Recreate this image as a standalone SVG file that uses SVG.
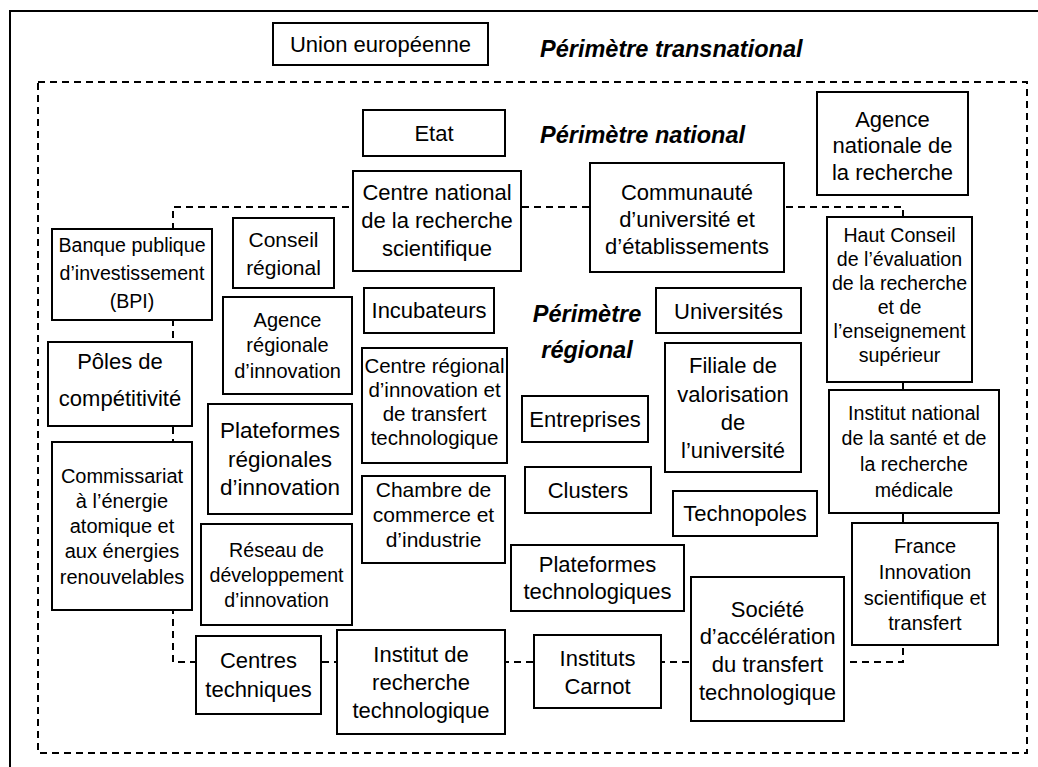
<svg xmlns="http://www.w3.org/2000/svg" width="1038" height="767" viewBox="0 0 1038 767">
<style>
text{font-family:"Liberation Sans",Arial,sans-serif;fill:#000;text-anchor:middle}
.b rect{fill:#fff;stroke:#000;stroke-width:2}
.f22{font-size:22px}
.f20{font-size:20px}
.f19{font-size:19.6px}
.lab{font-family:"Liberation Sans",Arial,sans-serif;font-weight:bold;font-style:italic;font-size:23.5px;text-anchor:start}
.dash{fill:none;stroke:#000;stroke-width:2;stroke-dasharray:7 5}
.solid{fill:none;stroke:#000;stroke-width:2}
</style>
<rect width="1038" height="767" fill="#fff"/>
<path class="solid" d="M10,767 V11 H1038"/>
<g id="connectors">
<rect class="dash" x="38" y="82" width="989" height="671"/>
<path class="dash" d="M903,217 V207 H173 V662 H903 V645"/>
<path class="solid" d="M903,382 V390 M903,513 V523"/>
</g>
<text class="lab" x="540" y="57">Périmètre transnational</text>
<text class="lab" x="540" y="143">Périmètre national</text>
<text class="lab" style="text-anchor:middle" x="587" y="322">Périmètre</text>
<text class="lab" style="text-anchor:middle" x="587" y="358">régional</text>

<g id="union" class="b"><rect x="273" y="23" width="215" height="42"/><text class="f22" x="380.5" y="52">Union européenne</text></g>
<g id="etat" class="b"><rect x="363" y="110" width="142" height="46"/><text class="f22" x="434" y="141">Etat</text></g>
<g id="cnrs" class="b"><rect x="353" y="171" width="168" height="100"/><text class="f22"><tspan x="437" y="200">Centre national</tspan><tspan x="437" y="228">de la recherche</tspan><tspan x="437" y="256">scientifique</tspan></text></g>
<g id="comue" class="b"><rect x="590" y="163" width="194" height="109"/><text class="f22"><tspan x="687" y="200">Communauté</tspan><tspan x="687" y="227">d’université et</tspan><tspan x="687" y="254">d’établissements</tspan></text></g>
<g id="anr" class="b"><rect x="817" y="92" width="151" height="103"/><text class="f22"><tspan x="892.5" y="127">Agence</tspan><tspan x="892.5" y="153">nationale de</tspan><tspan x="892.5" y="180">la recherche</tspan></text></g>
<g id="hceres" class="b"><rect x="827" y="217" width="145" height="165"/><text class="f19"><tspan x="899.5" y="242">Haut Conseil</tspan><tspan x="899.5" y="266">de l’évaluation</tspan><tspan x="899.5" y="290">de la recherche</tspan><tspan x="899.5" y="314">et de</tspan><tspan x="899.5" y="338">l’enseignement</tspan><tspan x="899.5" y="362">supérieur</tspan></text></g>
<g id="bpi" class="b"><rect x="52" y="229" width="160" height="91"/><text class="f19"><tspan x="132" y="252">Banque publique</tspan><tspan x="132" y="280">d’investissement</tspan><tspan x="132" y="308">(BPI)</tspan></text></g>
<g id="conseil" class="b"><rect x="233" y="218" width="101" height="70"/><text style="font-size:21px"><tspan x="283.5" y="247">Conseil</tspan><tspan x="283.5" y="275">régional</tspan></text></g>
<g id="poles" class="b"><rect x="48" y="342" width="144" height="84"/><text class="f22"><tspan x="120" y="369">Pôles de</tspan><tspan x="120" y="406">compétitivité</tspan></text></g>
<g id="cea" class="b"><rect x="52" y="442" width="140" height="168"/><text class="f20"><tspan x="122" y="483">Commissariat</tspan><tspan x="122" y="508">à l’énergie</tspan><tspan x="122" y="533">atomique et</tspan><tspan x="122" y="558">aux énergies</tspan><tspan x="122" y="584">renouvelables</tspan></text></g>
<g id="ari" class="b"><rect x="223" y="297" width="129" height="97"/><text class="f20"><tspan x="287.5" y="327">Agence</tspan><tspan x="287.5" y="352">régionale</tspan><tspan x="287.5" y="378">d’innovation</tspan></text></g>
<g id="incub" class="b"><rect x="364" y="288" width="130" height="45"/><text class="f22" x="429" y="318">Incubateurs</text></g>
<g id="critt" class="b"><rect x="362" y="348" width="145" height="115"/><text style="font-size:20.5px"><tspan x="434.5" y="373">Centre régional</tspan><tspan x="434.5" y="397">d’innovation et</tspan><tspan x="434.5" y="421">de transfert</tspan><tspan x="434.5" y="445">technologique</tspan></text></g>
<g id="cci" class="b"><rect x="362" y="476" width="143" height="87"/><text style="font-size:21px"><tspan x="433.5" y="497">Chambre de</tspan><tspan x="433.5" y="522">commerce et</tspan><tspan x="433.5" y="547">d’industrie</tspan></text></g>
<g id="pri" class="b"><rect x="208" y="404" width="144" height="110"/><text style="font-size:22.5px"><tspan x="280" y="438">Plateformes</tspan><tspan x="280" y="467">régionales</tspan><tspan x="280" y="495">d’innovation</tspan></text></g>
<g id="rdi" class="b"><rect x="201" y="524" width="151" height="101"/><text class="f19"><tspan x="276.5" y="557">Réseau de</tspan><tspan x="276.5" y="582">développement</tspan><tspan x="276.5" y="607">d’innovation</tspan></text></g>
<g id="ctech" class="b"><rect x="196" y="636" width="125" height="78"/><text class="f22"><tspan x="258.5" y="668">Centres</tspan><tspan x="258.5" y="697">techniques</tspan></text></g>
<g id="irt" class="b"><rect x="337" y="630" width="168" height="104"/><text class="f22"><tspan x="421" y="662">Institut de</tspan><tspan x="421" y="690">recherche</tspan><tspan x="421" y="718">technologique</tspan></text></g>
<g id="carnot" class="b"><rect x="534" y="635" width="127" height="73"/><text class="f22"><tspan x="597.5" y="666">Instituts</tspan><tspan x="597.5" y="694">Carnot</tspan></text></g>
<g id="satt" class="b"><rect x="691" y="577" width="153" height="144"/><text class="f22"><tspan x="767.5" y="617">Société</tspan><tspan x="767.5" y="644">d’accélération</tspan><tspan x="767.5" y="672">du transfert</tspan><tspan x="767.5" y="700">technologique</tspan></text></g>
<g id="fist" class="b"><rect x="852" y="523" width="146" height="122"/><text class="f20"><tspan x="925" y="553">France</tspan><tspan x="925" y="579">Innovation</tspan><tspan x="925" y="605">scientifique et</tspan><tspan x="925" y="630">transfert</tspan></text></g>
<g id="inserm" class="b"><rect x="829" y="390" width="170" height="123"/><text class="f19"><tspan x="914" y="420">Institut national</tspan><tspan x="914" y="445">de la santé et de</tspan><tspan x="914" y="471">la recherche</tspan><tspan x="914" y="497">médicale</tspan></text></g>
<g id="univ" class="b"><rect x="656" y="288" width="145" height="45"/><text class="f22" x="728.5" y="319">Universités</text></g>
<g id="filiale" class="b"><rect x="665" y="343" width="136" height="129"/><text class="f22"><tspan x="733" y="373">Filiale de</tspan><tspan x="733" y="402">valorisation</tspan><tspan x="733" y="430">de</tspan><tspan x="733" y="458">l’université</tspan></text></g>
<g id="entreprises" class="b"><rect x="522" y="396" width="126" height="46"/><text class="f22" x="585" y="427">Entreprises</text></g>
<g id="clusters" class="b"><rect x="525" y="467" width="126" height="46"/><text class="f22" x="588" y="498">Clusters</text></g>
<g id="technopoles" class="b"><rect x="673" y="491" width="144" height="45"/><text class="f22" x="745" y="521">Technopoles</text></g>
<g id="plattech" class="b"><rect x="511" y="545" width="173" height="66"/><text class="f22"><tspan x="597.5" y="572">Plateformes</tspan><tspan x="597.5" y="599">technologiques</tspan></text></g>
</svg>
